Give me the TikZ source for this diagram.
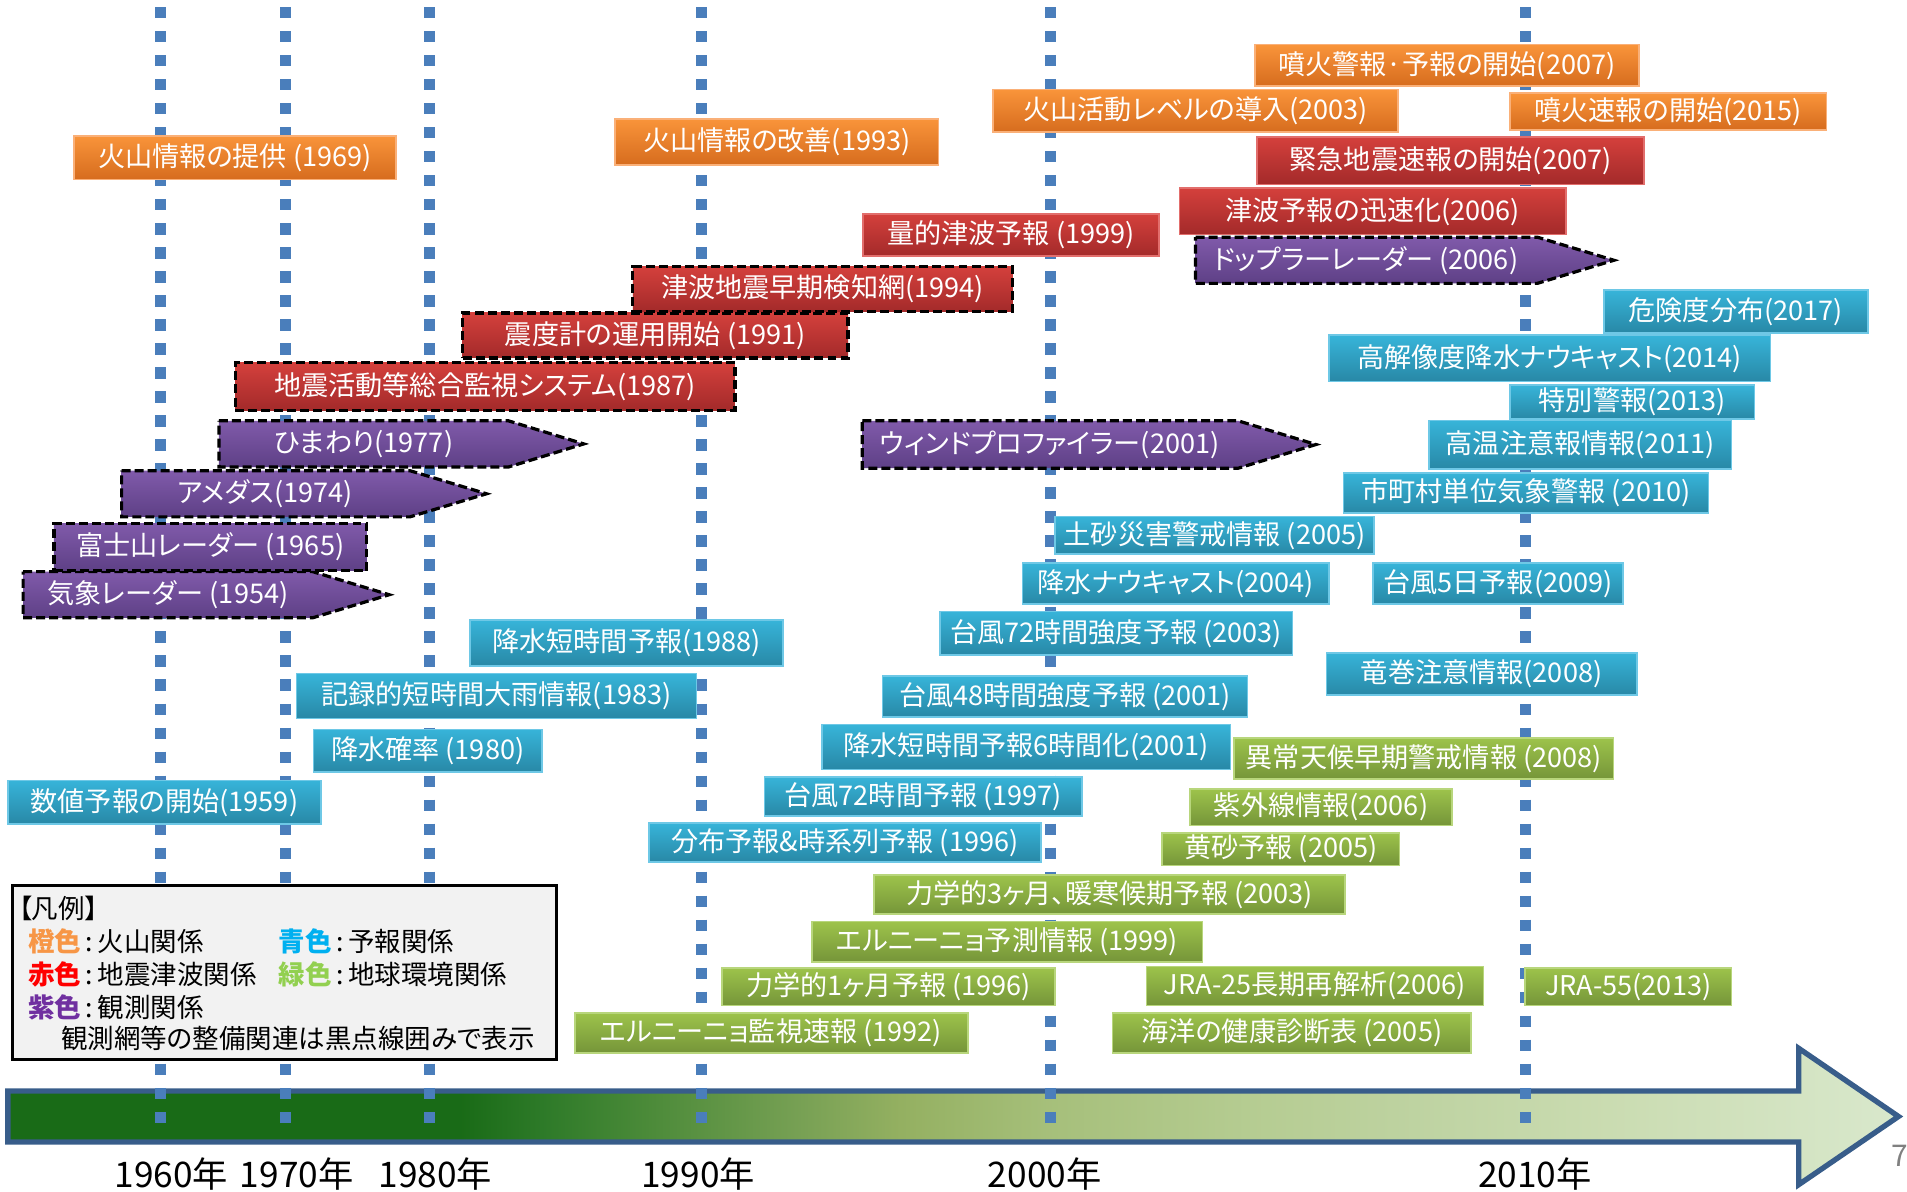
\documentclass[tikz,border=0pt]{standalone}
\usepackage{fontspec}
\setmainfont{Noto Sans CJK JP}[RawFeature=+palt]
\usepackage{tikz}

\definecolor{guideblue}{RGB}{74,126,187}
\definecolor{barline}{RGB}{56,93,138}
\definecolor{volctop}{RGB}{249,148,58}
\definecolor{volcbot}{RGB}{214,108,30}
\definecolor{volcedge}{RGB}{250,176,120}
\definecolor{quaketop}{RGB}{212,64,60}
\definecolor{quakebot}{RGB}{163,42,42}
\definecolor{quakeedge}{RGB}{226,110,108}
\definecolor{obstop}{RGB}{128,90,170}
\definecolor{obsbot}{RGB}{94,64,134}
\definecolor{fcsttop}{RGB}{55,180,217}
\definecolor{fcstbot}{RGB}{40,136,166}
\definecolor{fcstedge}{RGB}{110,200,230}
\definecolor{envtop}{RGB}{157,195,75}
\definecolor{envbot}{RGB}{117,149,57}
\definecolor{envedge}{RGB}{184,214,124}
\definecolor{legfill}{RGB}{242,242,242}
\definecolor{lgorange}{RGB}{247,150,70}
\definecolor{lgred}{RGB}{255,0,0}
\definecolor{lgpurple}{RGB}{112,48,160}
\definecolor{lgblue}{RGB}{0,176,240}
\definecolor{lggreen}{RGB}{146,208,80}

\pgfdeclarehorizontalshading{timebar}{100bp}{%
  rgb(0bp)=(0.10,0.42,0.09); rgb(37bp)=(0.10,0.42,0.09);%
  rgb(39.2bp)=(0.18,0.48,0.16); rgb(41.8bp)=(0.29,0.54,0.22);%
  rgb(46bp)=(0.47,0.63,0.33); rgb(48.6bp)=(0.58,0.69,0.38);%
  rgb(52.5bp)=(0.65,0.75,0.48); rgb(57.8bp)=(0.71,0.80,0.57);%
  rgb(62.8bp)=(0.75,0.83,0.64); rgb(67bp)=(0.79,0.86,0.69);%
  rgb(75bp)=(0.85,0.91,0.80); rgb(100bp)=(0.85,0.91,0.80)}

\begin{document}
\begin{tikzpicture}[x=0.02cm, y=-0.02cm,
    evt/.style={inner sep=0pt, anchor=north west, text=white, line width=0.8pt,
                font=\fontsize{12.7}{14}\selectfont},
    sz/.style 2 args={minimum width=#1*0.02cm, minimum height=#2*0.02cm},
    volc/.style={evt, draw=volcedge, top color=volctop, bottom color=volcbot},
    quake/.style={evt, draw=quakeedge, top color=quaketop, bottom color=quakebot},
    fcst/.style={evt, draw=fcstedge, top color=fcsttop, bottom color=fcstbot},
    env/.style={evt, draw=envedge, top color=envtop, bottom color=envbot},
    netw/.style={draw=black, line width=1.5pt, dash pattern=on 4.2pt off 1.9pt},
    obs/.style={evt, netw, top color=obstop, bottom color=obsbot},
    obstxt/.style={inner sep=0pt, text=white, font=\fontsize{12.7}{14}\selectfont},
    guideline/.style={line width=0.18cm, draw=guideblue, dash pattern=on 0.186cm off 0.209cm},
    yrlabel/.style={inner sep=0pt, font=\fontsize{16.5}{18}\selectfont},
    legtxt/.style={anchor=west, inner sep=0pt, font=\fontsize{12.4}{14}\selectfont}]
    \useasboundingbox (0,0) rectangle (1568,980);

    % Time axis (big arrow)
    \path[shade, shading=timebar, draw=barline, line width=2.5pt]
        (6.5,897) -- (1479,897) -- (1479,862) -- (1561,918) -- (1479,974) -- (1479,939) -- (6.5,939) -- cycle;

    % Year guides (dashed)
    \foreach \gx in {132,235,353,577,864,1254}
        \draw[guideline] (\gx,5.8) -- (\gx,923);
    \foreach \yr/\xc in {1960/141,1970/244,1980/358,1990/574,2000/859,2010/1262}
        \node[yrlabel] (yr\yr) at (\xc,965) {\yr 年};

    % Volcano (orange)
    \node[volc, sz={265}{36}] (vo69) at (60,111) {火山情報の提供 (1969)};
    \node[volc, sz={266}{38}] (vo93) at (505,97) {火山情報の改善(1993)};
    \node[volc, sz={333}{35}] (vo03) at (816,73) {火山活動レベルの導入(2003)};
    \node[volc, sz={316}{34}] (vo07) at (1031,36) {噴火警報·予報の開始(2007)};
    \node[volc, sz={260}{30}] (vo15) at (1241,76) {噴火速報の開始(2015)};

    % Earthquake / tsunami (red)
    \node[quake, netw, sz={411}{39}] (eq87) at (192,297) {地震活動等総合監視システム(1987)};
    \node[quake, netw, sz={317}{37}] (eq91) at (379,256) {震度計の運用開始 (1991)};
    \node[quake, netw, sz={312}{37}] (eq94) at (519,218) {津波地震早期検知網(1994)};
    \node[quake, sz={243}{35}] (eq99) at (709,175) {量的津波予報 (1999)};
    \node[quake, sz={318}{38}] (eq06) at (969,154) {津波予報の迅速化(2006)};
    \node[quake, sz={318}{39}] (eq07) at (1033,112) {緊急地震速報の開始(2007)};

    % Observation (purple, dashed)
    \path[obs] (19,470) -- (257,470) -- (320,489) -- (257,508) -- (19,508) -- cycle;
    \node[obstxt] (ob54) at (138,489) {気象レーダー (1954)};
    \node[obs, sz={257}{39}] (ob65) at (43,429) {富士山レーダー (1965)};
    \path[obs] (100,387) -- (337,387) -- (400,406) -- (337,425) -- (100,425) -- cycle;
    \node[obstxt] (ob74) at (218,406) {アメダス(1974)};
    \path[obs] (180,346) -- (418,346) -- (480,365) -- (418,384) -- (180,384) -- cycle;
    \node[obstxt] (ob77) at (299,365) {ひまわり(1977)};
    \path[obs] (709,346) -- (1018,346) -- (1082,365.5) -- (1018,385) -- (709,385) -- cycle;
    \node[obstxt] (ob01) at (863,365.5) {ウィンドプロファイラー(2001)};
    \path[obs] (983,195) -- (1264,195) -- (1327,214) -- (1264,233) -- (983,233) -- cycle;
    \node[obstxt] (ob06) at (1123,214) {ドップラーレーダー (2006)};

    % Forecast (blue)
    \node[fcst, sz={257}{36}] (fc59) at (6,641) {数値予報の開始(1959)};
    \node[fcst, sz={188}{35}] (fc80) at (257,599) {降水確率 (1980)};
    \node[fcst, sz={329}{37}] (fc83) at (243,553) {記録的短時間大雨情報(1983)};
    \node[fcst, sz={257}{38}] (fc88) at (386,509) {降水短時間予報(1988)};
    \node[fcst, sz={322}{32}] (fc96) at (533,676) {分布予報\&時系列予報 (1996)};
    \node[fcst, sz={261}{32}] (fc97) at (628,638) {台風72時間予報 (1997)};
    \node[fcst, sz={336}{37}] (fc01a) at (675,595) {降水短時間予報6時間化(2001)};
    \node[fcst, sz={300}{34}] (fc01b) at (725,555) {台風48時間強度予報 (2001)};
    \node[fcst, sz={290}{36}] (fc03) at (772,502) {台風72時間強度予報 (2003)};
    \node[fcst, sz={252}{34}] (fc04) at (840,462) {降水ナウキャスト(2004)};
    \node[fcst, sz={262}{31}] (fc05) at (867,424) {土砂災害警戒情報 (2005)};
    \node[fcst, sz={255}{35}] (fc08) at (1090,536) {竜巻注意情報(2008)};
    \node[fcst, sz={206}{34}] (fc09) at (1128,462) {台風5日予報(2009)};
    \node[fcst, sz={300}{33}] (fc10) at (1104,388) {市町村単位気象警報 (2010)};
    \node[fcst, sz={249}{40}] (fc11) at (1174,345) {高温注意報情報(2011)};
    \node[fcst, sz={201}{28}] (fc13) at (1241,316) {特別警報(2013)};
    \node[fcst, sz={363}{38}] (fc14) at (1092,275) {高解像度降水ナウキャスト(2014)};
    \node[fcst, sz={217}{35}] (fc17) at (1318,238) {危険度分布(2017)};

    % Global environment (green)
    \node[env, sz={323}{33}] (en92) at (472,832) {エルニーニョ監視速報 (1992)};
    \node[env, sz={274}{31}] (en96) at (593,795) {力学的1ヶ月予報 (1996)};
    \node[env, sz={321}{33}] (en99) at (667,757) {エルニーニョ予測情報 (1999)};
    \node[env, sz={387}{32}] (en03) at (718,719) {力学的3ヶ月、暖寒候期予報 (2003)};
    \node[env, sz={195}{27}] (en05a) at (955,684) {黄砂予報 (2005)};
    \node[env, sz={295}{33}] (en05b) at (914,832) {海洋の健康診断表 (2005)};
    \node[env, sz={215}{30}] (en06a) at (978,648) {紫外線情報(2006)};
    \node[env, sz={277}{32}] (en06b) at (942,794) {JRA-25長期再解析(2006)};
    \node[env, sz={312}{34}] (en08) at (1014,606) {異常天候早期警戒情報 (2008)};
    \node[env, sz={170}{31}] (en13) at (1253,795) {JRA-55(2013)};

    % Legend
    \node[draw=black, line width=1.4pt, fill=legfill, anchor=north west, inner sep=0pt, sz={447}{143}] (legend) at (9,727) {};
    \node[legtxt] (lgtitle) at (15,747) {【凡例】};
    \node[legtxt] (lgvolc) at (23,774) {{\bfseries\color{lgorange}橙色}\,:\,火山関係};
    \node[legtxt] (lgfcst) at (229,774) {{\bfseries\color{lgblue}青色}\,:\,予報関係};
    \node[legtxt] (lgquake) at (23,801) {{\bfseries\color{lgred}赤色}\,:\,地震津波関係};
    \node[legtxt] (lgenv) at (229,801) {{\bfseries\color{lggreen}緑色}\,:\,地球環境関係};
    \node[legtxt] (lgobs) at (23,828) {{\bfseries\color{lgpurple}紫色}\,:\,観測関係};
    \node[legtxt] (lgnetw) at (50,854) {観測網等の整備関連は黒点線囲みで表示};

    % Page number
    \node[anchor=west, inner sep=0pt, text=gray, font=\fontsize{14}{16}\selectfont] (pgno) at (1555,950) {7};
\end{tikzpicture}
\end{document}
